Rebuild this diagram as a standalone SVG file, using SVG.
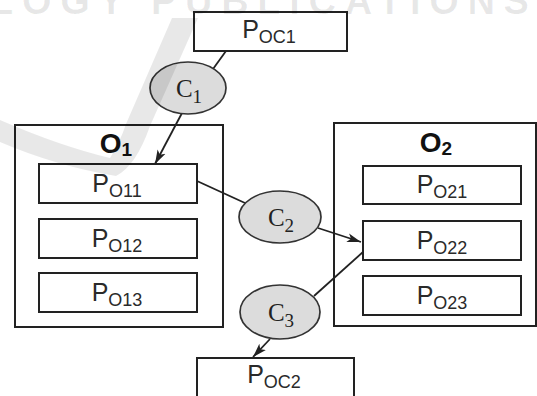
<svg xmlns="http://www.w3.org/2000/svg" width="537" height="396" viewBox="0 0 537 396">
  <style>
    .box { fill: none; stroke: #222; stroke-width: 2; }
    .cond { fill: #dcdcdc; stroke: #333; stroke-width: 1.7; }
    .wire { fill: none; stroke: #222; stroke-width: 1.8; }
    .p { font-family: "Liberation Sans", Arial, sans-serif; font-size: 25px; fill: #2a2a2a; text-anchor: middle; }
    .p .sub { font-size: 18px; }
    .o { font-family: "Liberation Sans", Arial, sans-serif; font-size: 28px; font-weight: bold; fill: #111; text-anchor: middle; }
    .o .sub { font-size: 19px; }
    .c { font-family: "Liberation Serif", "Times New Roman", serif; font-size: 25px; fill: #222; text-anchor: middle; }
    .c .sub { font-size: 19px; }
    .mark { fill: #000; fill-opacity: 0.09; }
    .mark text { font-family: "Liberation Sans", Arial, sans-serif; font-size: 38px; font-weight: bold; letter-spacing: 8.7px; }
  </style>
  <defs>
    <marker id="arrow" viewBox="0 0 14 10" refX="14" refY="5" markerWidth="14" markerHeight="10" markerUnits="userSpaceOnUse" orient="auto">
      <path d="M0,0.5 L14,5 L0,9.5 L3.5,5 z" fill="#222"/>
    </marker>
  </defs>

  <rect width="537" height="396" fill="#fff"/>

  <!-- outer object containers -->
  <g id="O1">
    <rect class="box" x="15" y="125" width="208" height="202"/>
    <text class="o" x="116" y="153">O<tspan class="sub" dy="3">1</tspan></text>
  </g>
  <g id="O2">
    <rect class="box" x="334" y="123" width="202" height="203"/>
    <text class="o" x="436" y="152">O<tspan class="sub" dy="3">2</tspan></text>
  </g>

  <!-- places -->
  <g id="POC1">
    <rect class="box" x="194" y="12" width="153" height="39"/>
    <text class="p" x="269" y="38">P<tspan class="sub" dy="5">OC1</tspan></text>
  </g>
  <g id="PO11">
    <rect class="box" x="39" y="164" width="158" height="39"/>
    <text class="p" x="117" y="192">P<tspan class="sub" dy="5">O11</tspan></text>
  </g>
  <g id="PO12">
    <rect class="box" x="39" y="219" width="158" height="39"/>
    <text class="p" x="117" y="247">P<tspan class="sub" dy="5">O12</tspan></text>
  </g>
  <g id="PO13">
    <rect class="box" x="39" y="273" width="158" height="39"/>
    <text class="p" x="117" y="301">P<tspan class="sub" dy="5">O13</tspan></text>
  </g>
  <g id="PO21">
    <rect class="box" x="363" y="166" width="158" height="38"/>
    <text class="p" x="442" y="193">P<tspan class="sub" dy="5">O21</tspan></text>
  </g>
  <g id="PO22">
    <rect class="box" x="363" y="221" width="158" height="39"/>
    <text class="p" x="442" y="249">P<tspan class="sub" dy="5">O22</tspan></text>
  </g>
  <g id="PO23">
    <rect class="box" x="363" y="276" width="158" height="39"/>
    <text class="p" x="442" y="304">P<tspan class="sub" dy="5">O23</tspan></text>
  </g>
  <g id="POC2">
    <rect class="box" x="197" y="358" width="157" height="50"/>
    <text class="p" x="274" y="383">P<tspan class="sub" dy="5">OC2</tspan></text>
  </g>

  <!-- connectors -->
  <g id="connectors">
    <line class="wire" x1="226" y1="51" x2="213" y2="69"/>
    <line class="wire" x1="182" y1="113" x2="155" y2="164" marker-end="url(#arrow)"/>
    <line class="wire" x1="197" y1="181" x2="245" y2="203"/>
    <line class="wire" x1="318" y1="228" x2="361" y2="242" marker-end="url(#arrow)"/>
    <line class="wire" x1="363" y1="252" x2="314" y2="296"/>
    <line class="wire" x1="270" y1="339" x2="253" y2="357" marker-end="url(#arrow)"/>
  </g>

  <!-- conditions -->
  <g id="C1">
    <ellipse class="cond" cx="188" cy="88" rx="38" ry="26"/>
    <text class="c" x="189" y="97">C<tspan class="sub" dy="6">1</tspan></text>
  </g>
  <g id="C2">
    <ellipse class="cond" cx="280" cy="217" rx="41" ry="26"/>
    <text class="c" x="281" y="226">C<tspan class="sub" dy="6">2</tspan></text>
  </g>
  <g id="C3">
    <ellipse class="cond" cx="280" cy="312" rx="40" ry="27"/>
    <text class="c" x="281" y="321">C<tspan class="sub" dy="6">3</tspan></text>
  </g>

  <!-- faint publisher watermark laid over the figure -->
  <g id="watermark" class="mark">
    <text x="-10" y="14">LOGY PUBLICATIONS</text>
    <path d="M172 18 L198 18 L150 126 Q136 166 116 176 Q56 166 0 142 L0 120 Q60 146 110 158 Q120 142 126 124 Z"/>
  </g>
</svg>
